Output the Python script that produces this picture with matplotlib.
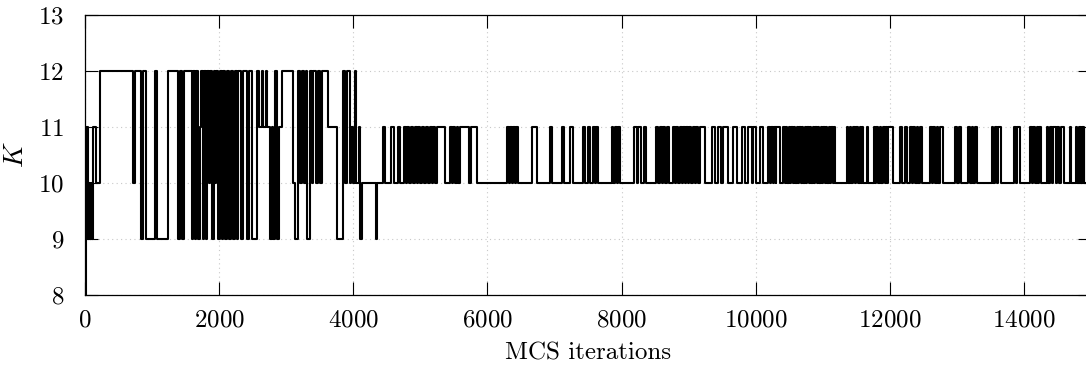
import matplotlib
matplotlib.use('Agg')
import matplotlib.pyplot as plt
import numpy as np

plt.rcParams['font.family'] = 'serif'
plt.rcParams['font.serif'] = ['cmr10']
plt.rcParams['mathtext.fontset'] = 'cm'
plt.rcParams['axes.formatter.use_mathtext'] = True

# first part: run start (MCS iteration) and K value of that run
early_iter = [0, 15, 40, 55, 70, 85, 100, 115, 170, 225, 720, 745, 840, 870, 910,
              1050, 1075, 1240, 1380, 1420, 1440, 1480, 1590, 1610, 1640, 1660,
              1690, 1710, 1730, 1760, 1780, 1800, 1820, 1850, 1870, 1900, 1920,
              1940, 1960, 1990, 2010, 2040, 2060, 2090, 2110, 2150, 2170, 2200,
              2230, 2260, 2280, 2330, 2350, 2420, 2440, 2490, 2565, 2600, 2640,
              2660, 2700, 2720, 2760, 2790, 2810, 2840, 2860, 2890, 2930, 3100,
              3130, 3170, 3200, 3230, 3260, 3290, 3310, 3350, 3380, 3400, 3440,
              3470, 3500, 3530, 3620, 3760, 3850, 3880, 3910, 3950, 3970, 3990,
              4020, 4040, 4080, 4100, 4130, 4340, 4360]
early_k = [8, 11, 9, 10, 9, 10, 9, 11, 10, 12, 10, 12, 9, 12, 9,
           12, 9, 12, 9, 12, 9, 12, 9, 12, 9, 12,
           9, 11, 12, 9, 12, 9, 12, 10, 12, 9, 12,
           10, 12, 9, 12, 9, 12, 9, 12, 9, 12, 9,
           12, 9, 12, 9, 12, 9, 12, 9, 12, 11, 12,
           11, 12, 11, 9, 11, 9, 12, 9, 11, 12, 10,
           9, 12, 10, 12, 10, 12, 9, 12, 10, 12, 10,
           12, 10, 12, 11, 9, 12, 10, 12, 10, 11, 10,
           12, 10, 11, 9, 10, 9, 10]

# later part: K sits at 10 and jumps to 11 between these iterations
k11_on = [4440, 4570, 4670, 4755, 4805, 4855, 4920, 4970, 5020, 5090, 5140, 5190,
          5245, 5440, 5490, 5540, 5590, 5750, 6290, 6340, 6385, 6430, 6660, 6930,
          7105, 7230, 7430, 7505, 7580, 7615, 7855, 7900, 7950, 8190, 8250, 8330,
          8520, 8570, 8620, 8680, 8760, 8810, 8870, 8920, 8960, 9010, 9060, 9110,
          9170, 9345, 9440, 9520, 9665, 9790, 9890, 9965, 10065, 10190, 10230,
          10280, 10310, 10410, 10450, 10490, 10530, 10570, 10610, 10650, 10690,
          10730, 10770, 10810, 10850, 10890, 10930, 10970, 11010, 11050, 11090,
          11130, 11170, 11360, 11400, 11450, 11500, 11550, 11590, 11655, 11760,
          11800, 11850, 11900, 11940, 11980, 12150, 12225, 12300, 12350, 12400,
          12450, 12600, 12650, 12700, 12750, 12970, 13030, 13170, 13220, 13270,
          13520, 13570, 13620, 13850, 13900, 14090, 14140, 14190, 14230, 14340,
          14390, 14430, 14500, 14560, 14680, 14770, 14820, 14870, 14940]
k11_off = [4480, 4600, 4700, 4785, 4830, 4885, 4950, 5000, 5050, 5120, 5170, 5220,
           5370, 5470, 5520, 5565, 5720, 5840, 6320, 6370, 6410, 6460, 6735, 6960,
           7135, 7280, 7460, 7535, 7600, 7645, 7880, 7930, 7980, 8225, 8290, 8370,
           8550, 8600, 8650, 8710, 8790, 8840, 8900, 8945, 8990, 9040, 9090, 9140,
           9245, 9390, 9490, 9590, 9715, 9840, 9940, 10010, 10110, 10215, 10260,
           10300, 10360, 10430, 10470, 10515, 10550, 10590, 10635, 10670, 10710,
           10755, 10790, 10830, 10875, 10910, 10950, 10995, 11030, 11070, 11115,
           11150, 11185, 11380, 11425, 11475, 11520, 11575, 11605, 11680, 11780,
           11825, 11870, 11925, 11960, 12050, 12175, 12250, 12325, 12375, 12425,
           12480, 12625, 12675, 12725, 12790, 13000, 13060, 13195, 13245, 13300,
           13545, 13595, 13660, 13875, 13935, 14115, 14165, 14210, 14260, 14365,
           14415, 14480, 14525, 14600, 14705, 14795, 14845, 14900, 15000]

run_iter = list(early_iter)
run_k = list(early_k)
for on, off in zip(k11_on, k11_off):
    run_iter += [on, off]
    run_k += [11, 10]

fig = plt.figure(figsize=(10.86, 3.66), dpi=100)
ax = fig.add_axes([85 / 1086, 71 / 366, 1006 / 1086, 280 / 366])

ax.plot(run_iter, run_k, drawstyle='steps-post', color='black', lw=1.5)

ax.set_xlim(0, 15000)
ax.set_ylim(8, 13)
ax.set_xticks(np.arange(0, 14001, 2000))
ax.set_yticks(np.arange(8, 14, 1))
ax.grid(True, color='#c8c8c8', linestyle=(0, (1, 3)), lw=0.8)
ax.tick_params(direction='in', length=9.5, width=0.8, top=True, right=True,
               labelsize=18)
ax.tick_params(axis='x', pad=10)
ax.tick_params(axis='y', pad=15)
for s in ax.spines.values():
    s.set_linewidth(0.9)

ax.set_xlabel('MCS iterations', fontsize=18)
ax.set_ylabel('$K$', fontsize=20)
ax.xaxis.set_label_coords(0.5, -0.17)
ax.yaxis.set_label_coords(-0.056, 0.5)

fig.savefig('out.png', dpi=100)
